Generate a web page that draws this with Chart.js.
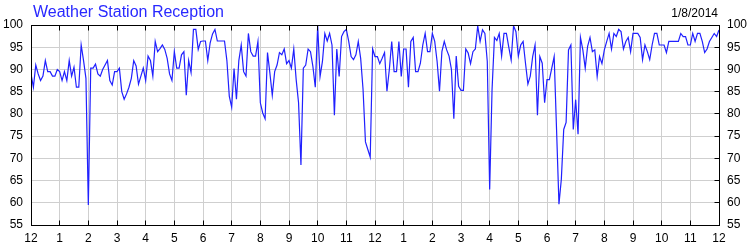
<!DOCTYPE html>
<html>
<head>
<meta charset="utf-8">
<script src="https://cdn.jsdelivr.net/npm/chart.js@4.4.1/dist/chart.umd.min.js"></script>
<style>
  html, body { margin: 0; padding: 0; background: #fff; }
</style>
</head>
<body>
<canvas id="receptionChart" width="750" height="250"></canvas>
<script>
const chartTitle = "Weather Station Reception";
const chartDate = "1/8/2014";
const hourLabels = ["12", "1", "2", "3", "4", "5", "6", "7", "8", "9", "10", "11",
                    "12", "1", "2", "3", "4", "5", "6", "7", "8", "9", "10", "11", "12"];
const samplesPerHour = 12; // one reading every 5 minutes

// reception %, one row per hour
const reception = [
  89, 86, 91, 89, 87.5, 88.5, 92, 89.5, 89.5, 88.5, 88.5, 90,
  89.5, 87.5, 89.5, 87.5, 92, 88.5, 90.5, 86, 86, 95.5, 92, 88,
  59.5, 90.3, 90.3, 91.2, 89, 88.5, 90, 91, 92, 87.5, 86.5, 89.5,
  89.5, 90.3, 85, 83.3, 84.5, 86, 88, 92, 90.8, 86.7, 88.5, 90.3,
  87.5, 93, 92, 88.5, 96.3, 94, 94.7, 95.5, 94.5, 92.5, 89, 87.5,
  94, 90.3, 90.3, 93.3, 94, 84.2, 92, 89.3, 99, 99, 94.5, 96.3,
  96.4, 96.4, 92, 96, 98, 99, 96.4, 96.4, 96.4, 96.4, 92, 84,
  81.5, 90.2, 83.3, 92, 95.5, 89.5, 88.5, 98.1, 94, 93, 93, 96.3,
  82.5, 80.2, 78.9, 93.8, 89.2, 84.2, 89.5, 91, 93.8, 93.3, 94.6, 91.3,
  92, 90.3, 94.6, 87.7, 82.5, 68.5, 90.3, 91, 94.6, 94, 90.7, 86,
  99.8, 88.4, 91.8, 98.1, 96.4, 98.1, 95.5, 79.7, 94.6, 88.4, 97.4, 98.5,
  99, 96.3, 92.9, 92.2, 93.3, 96.3, 92.5, 85.5, 73.7, 72, 70.3, 94.6,
  92.9, 92.9, 91.3, 92.5, 93.8, 85.1, 90, 96.3, 89.5, 89.5, 96.3, 88.4,
  94.6, 94.6, 86, 96.3, 97.2, 89.5, 89.5, 91.4, 95.5, 98.1, 94, 94,
  98.1, 96.3, 91.8, 85.1, 94, 96.3, 94.4, 93, 90, 78.9, 93, 86.2,
  85.3, 85.3, 94.6, 93.7, 91.3, 94, 94.6, 99.8, 96.3, 98.9, 98.1, 91.8,
  63, 85.5, 97.2, 96.5, 98.1, 93, 98.1, 98.1, 95, 92.1, 99.8, 98.5,
  93, 95.5, 96.3, 91.4, 86.7, 88.5, 92.9, 95.5, 79.7, 92.9, 91.4, 82.5,
  87.7, 87.7, 90.3, 92.9, 76.5, 59.7, 65.3, 76.5, 78.1, 94.4, 95.5, 76.5,
  83.2, 75.4, 97.2, 94.4, 90.3, 95.2, 97.2, 94, 94.4, 88.4, 92.9, 91.3,
  94.4, 96.3, 98.1, 94.6, 98.1, 97.4, 99, 98.5, 94.6, 96.3, 97.2, 94,
  98.1, 98.1, 98.1, 97.2, 92.2, 95.5, 94, 92.2, 95.5, 98.1, 98.1, 95.5,
  95.5, 95.5, 93.8, 96.3, 96.3, 96.3, 96.3, 96.3, 98.1, 97.4, 97.4, 95.5,
  95.5, 98.1, 96.3, 98.1, 98.1, 96.3, 93.8, 94.6, 96.3, 97.2, 98.1, 97.4,
  98.9
];
const yMin = 55;
const yMax = 100;
const yStep = 5;

const points = reception.map((v, i) => ({ x: i / samplesPerHour, y: v }));

// frame, inward tick marks, title and date
const frameAndText = {
  id: 'frameAndText',
  afterDraw(chart) {
    const { ctx, chartArea: a, scales } = chart;
    const l = Math.floor(a.left) + 0.5, r = Math.floor(a.right) + 0.5;
    const t = Math.floor(a.top) + 0.5, b = Math.floor(a.bottom) + 0.5;
    ctx.save();
    ctx.strokeStyle = '#000';
    ctx.lineWidth = 1;
    ctx.strokeRect(l, t, r - l, b - t);
    ctx.beginPath();
    for (let h = 1; h < hourLabels.length - 1; h++) {
      const x = Math.floor(scales.x.getPixelForValue(h)) + 0.5;
      ctx.moveTo(x, b); ctx.lineTo(x, b - 5);
      ctx.moveTo(x, t); ctx.lineTo(x, t + 5);
    }
    for (let v = yMin + yStep; v < yMax; v += yStep) {
      const y = Math.floor(scales.y.getPixelForValue(v)) + 0.5;
      ctx.moveTo(r, y); ctx.lineTo(r - 5, y);
    }
    ctx.stroke();

    ctx.textBaseline = 'alphabetic';
    ctx.font = '16px "Liberation Sans", Arial, sans-serif';
    ctx.fillStyle = '#2828ff';
    ctx.textAlign = 'left';
    ctx.fillText(chartTitle, a.left + 2, 17);
    ctx.font = '12px "Liberation Sans", Arial, sans-serif';
    ctx.fillStyle = '#000';
    ctx.textAlign = 'right';
    ctx.fillText(chartDate, a.right - 1, 17);
    ctx.restore();
  }
};

const tickFont = { family: '"Liberation Sans", Arial, sans-serif', size: 12 };

new Chart(document.getElementById('receptionChart'), {
  type: 'line',
  data: {
    datasets: [{
      data: points,
      borderColor: '#2020ff',
      borderWidth: 1.2,
      pointRadius: 0,
      tension: 0,
      fill: false
    }]
  },
  options: {
    responsive: false,
    animation: false,
    layout: { padding: { top: 25, left: 0, right: 0, bottom: 0 } },
    plugins: {
      legend: { display: false },
      tooltip: { enabled: false }
    },
    scales: {
      x: {
        type: 'linear',
        min: 0,
        max: hourLabels.length - 1,
        afterFit: s => { s.height = 25; },
        grid: { color: '#cfcfcf', drawTicks: false },
        border: { display: false },
        ticks: {
          stepSize: 1,
          padding: 6,
          color: '#000',
          font: tickFont,
          maxRotation: 0,
          autoSkip: false,
          callback: v => hourLabels[v]
        }
      },
      y: {
        position: 'left',
        min: yMin,
        max: yMax,
        afterFit: s => { s.width = 31; },
        grid: { color: '#cfcfcf', drawTicks: false },
        border: { display: false },
        ticks: { stepSize: yStep, padding: 8, color: '#000', font: tickFont }
      },
      y2: {
        position: 'right',
        min: yMin,
        max: yMax,
        afterFit: s => { s.width = 31; },
        grid: { display: false, drawTicks: false },
        border: { display: false },
        ticks: { stepSize: yStep, padding: 8, color: '#000', font: tickFont }
      }
    }
  },
  plugins: [frameAndText]
});
</script>
</body>
</html>
